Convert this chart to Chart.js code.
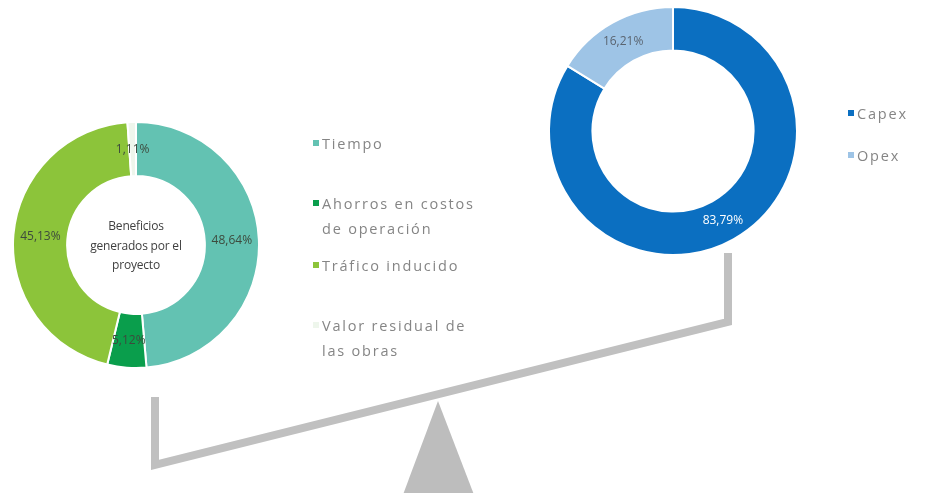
<!DOCTYPE html>
<html lang="es">
<head>
<meta charset="utf-8">
<script src="https://cdn.jsdelivr.net/npm/chart.js@4"></script>
<style>
  html, body { margin: 0; padding: 0; background: #fff; }
  #wrap { position: relative; width: 925px; height: 493px; overflow: hidden; font-family: "Open Sans", sans-serif; }
  .box { position: absolute; }
  .legend { position: absolute; color: #858585; font-size: 14.5px; letter-spacing: 1.8px; line-height: 25px; }
  .legend .item { position: absolute; white-space: nowrap; }
  .legend .mk { position: absolute; left: -9px; top: 9px; width: 6px; height: 6px; }
  #centro { position: absolute; left: 66px; top: 216px; width: 140px; text-align: center; font-size: 12px; line-height: 19.5px; color: #404040; letter-spacing: -0.2px; }
</style>
</head>
<body>
<div id="wrap">
  <div class="box" style="left:0;top:0;width:925px;height:493px"><canvas id="balanza"></canvas></div>
  <div class="box" style="left:12px;top:121px;width:248px;height:248px"><canvas id="beneficios"></canvas></div>
  <div class="box" style="left:548px;top:6px;width:250px;height:250px"><canvas id="costos"></canvas></div>
  <div id="centro">Beneficios<br>generados por el<br>proyecto</div>
  <div class="legend" id="leyenda-beneficios"></div>
  <div class="legend" id="leyenda-costos"></div>
</div>
<script>
// Beneficios del proyecto (%)
const beneficiosLabels = [["Tiempo"], ["Ahorros en costos", "de operación"], ["Tráfico inducido"], ["Valor residual de", "las obras"]];
const beneficiosValues = [48.64, 5.12, 45.13, 1.11];
const beneficiosColors = ["#63c2b2", "#0a9e4c", "#8cc43a", "#eef6ec"];

// Costos del proyecto (%)
const costosLabels = [["Capex"], ["Opex"]];
const costosValues = [83.79, 16.21];
const costosColors = ["#0b6fc1", "#9ec4e6"];

// Balanza dibujada en un plano 925 x 493
const brazo = [{x: 155, y: 397}, {x: 155, y: 465}, {x: 728, y: 322}, {x: 728, y: 253}];
const soporte = [{x: 401, y: 500}, {x: 438, y: 401}, {x: 476, y: 500}, {x: 401, y: 500}];

// Escribe el porcentaje en el centro de cada sector
const etiquetas = {
    id: "etiquetas",
    afterDatasetsDraw(chart, args, opts) {
        const ctx = chart.ctx;
        const meta = chart.getDatasetMeta(0);
        ctx.save();
        ctx.font = "12px 'Open Sans', sans-serif";
        ctx.textAlign = "center";
        ctx.textBaseline = "middle";
        meta.data.forEach((arc, i) => {
            const p = arc.getCenterPoint();
            const v = chart.data.datasets[0].data[i];
            ctx.fillStyle = opts.colors[i];
            ctx.fillText(v.toFixed(2).replace(".", ",") + "%", p.x, p.y);
        });
        ctx.restore();
    }
};

function donut(id, values, colors, cutout, labelColors) {
    return new Chart(document.getElementById(id), {
        type: "doughnut",
        data: {
            labels: values.map((v, i) => i),
            datasets: [{
                data: values,
                backgroundColor: colors,
                borderColor: "#ffffff",
                borderWidth: 2
            }]
        },
        options: {
            responsive: true,
            maintainAspectRatio: false,
            animation: false,
            cutout: cutout,
            layout: { padding: 0 },
            plugins: {
                legend: { display: false },
                tooltip: { enabled: false },
                etiquetas: { colors: labelColors }
            }
        },
        plugins: [etiquetas]
    });
}

// Leyenda HTML a partir de las listas
function leyenda(id, labels, colors, left, tops) {
    const el = document.getElementById(id);
    labels.forEach((lines, i) => {
        const item = document.createElement("div");
        item.className = "item";
        item.style.left = left + "px";
        item.style.top = tops[i] + "px";
        item.innerHTML = `<span class="mk" style="background:${colors[i]}"></span>` + lines.join("<br>");
        el.appendChild(item);
    });
}

donut("beneficios", beneficiosValues, beneficiosColors, "56%", ["#3d4a3d", "#3d4a3d", "#3d4a3d", "#3d4a3d"]);
donut("costos", costosValues, costosColors, "65%", ["#ffffff", "#5a6470"]);

leyenda("leyenda-beneficios", beneficiosLabels, beneficiosColors, 322, [131, 191, 253, 313]);
leyenda("leyenda-costos", costosLabels, costosColors, 857, [101, 143]);

new Chart(document.getElementById("balanza"), {
    type: "scatter",
    data: {
        datasets: [
            {
                data: brazo,
                showLine: true,
                borderColor: "#c0c0c0",
                borderWidth: 8,
                borderJoinStyle: "miter",
                borderCapStyle: "butt",
                pointRadius: 0,
                clip: false
            },
            {
                data: soporte,
                showLine: true,
                borderWidth: 0,
                backgroundColor: "#bdbdbd",
                fill: "shape",
                pointRadius: 0,
                clip: false
            }
        ]
    },
    options: {
        responsive: true,
        maintainAspectRatio: false,
        animation: false,
        layout: { padding: 0 },
        scales: {
            x: { type: "linear", min: 0, max: 925, display: false },
            y: { type: "linear", min: 0, max: 493, reverse: true, display: false }
        },
        plugins: { legend: { display: false }, tooltip: { enabled: false } }
    }
});
</script>
</body>
</html>
